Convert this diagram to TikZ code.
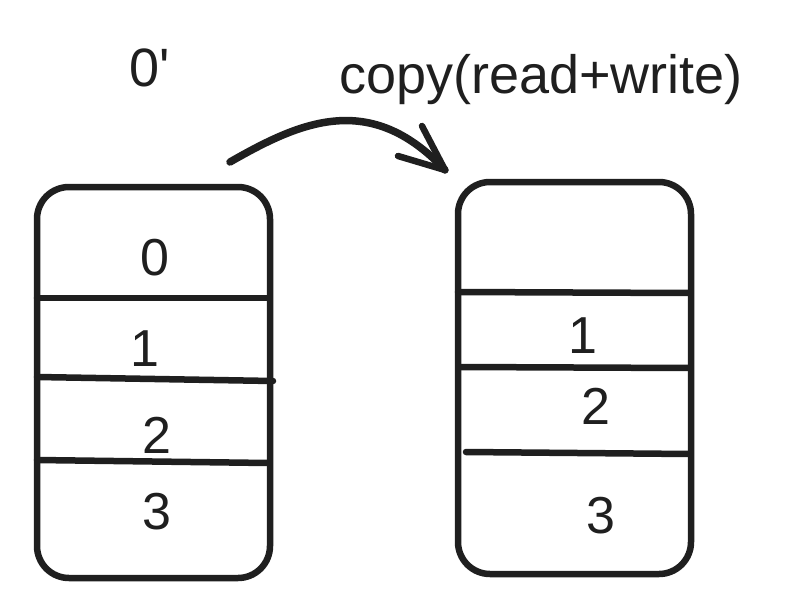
\documentclass[tikz,border=0pt]{standalone}
\usepackage{fontspec}
\setmainfont{Liberation Sans}
\newfontfamily\plainfont{Liberation Sans}
\usetikzlibrary{arrows.meta}
\begin{document}
\begin{tikzpicture}[x=1pt,y=-1pt,
  ink/.style={draw=black!88, line width=6.5pt, line cap=round, line join=round},
  cell/.style={ink, rounded corners=32pt},
  digit/.style={font=\fontsize{52}{52}\selectfont, text=black!88, inner sep=0pt},
  label/.style={font=\plainfont\fontsize{54}{54}\selectfont, text=black!88, inner sep=0pt}]
\useasboundingbox (0,0) rectangle (806,597);
% left stack
\draw[cell] (37,187) rectangle (270,578);
\coordinate (la1) at (37,298); \coordinate (lb1) at (268,298);
\coordinate (la2) at (37,377); \coordinate (lb2) at (273,381);
\coordinate (la3) at (37,460); \coordinate (lb3) at (268,463);
\draw[ink] (la1) -- (lb1);
\draw[ink] (la2) -- (lb2);
\draw[ink] (la3) -- (lb3);
\node[digit] (l0) at (155,258) {0};
\node[digit] (l1) at (145,349) {1};
\node[digit] (l2) at (157,435) {2};
\node[digit] (l3) at (157,512) {3};
% right stack
\draw[cell] (458,182) rectangle (691,574);
\coordinate (ra1) at (458,292); \coordinate (rb1) at (689,293);
\coordinate (ra2) at (460,367); \coordinate (rb2) at (689,368);
\coordinate (ra3) at (466,452); \coordinate (rb3) at (690,454);
\draw[ink] (ra1) -- (rb1);
\draw[ink] (ra2) -- (rb2);
\draw[ink] (ra3) -- (rb3);
\node[digit] (r1) at (583,336) {1};
\node[digit] (r2) at (596,406) {2};
\node[digit] (r3) at (601,516) {3};
% labels
\node[label] (oprime) at (150,68) {0'};
\node[label] (copy) at (541,80) {copy(read+write)};
% arrow
\coordinate (as) at (230,162);
\coordinate (ae) at (445,170);
\draw[ink, line width=7.5pt] (as) .. controls (300,122) and (370,90) .. (ae);
\coordinate (h1) at (398,156);
\coordinate (h2) at (422,126);
\draw[ink, line width=6.5pt] (h1) -- (ae) -- (h2);
\end{tikzpicture}
\end{document}
